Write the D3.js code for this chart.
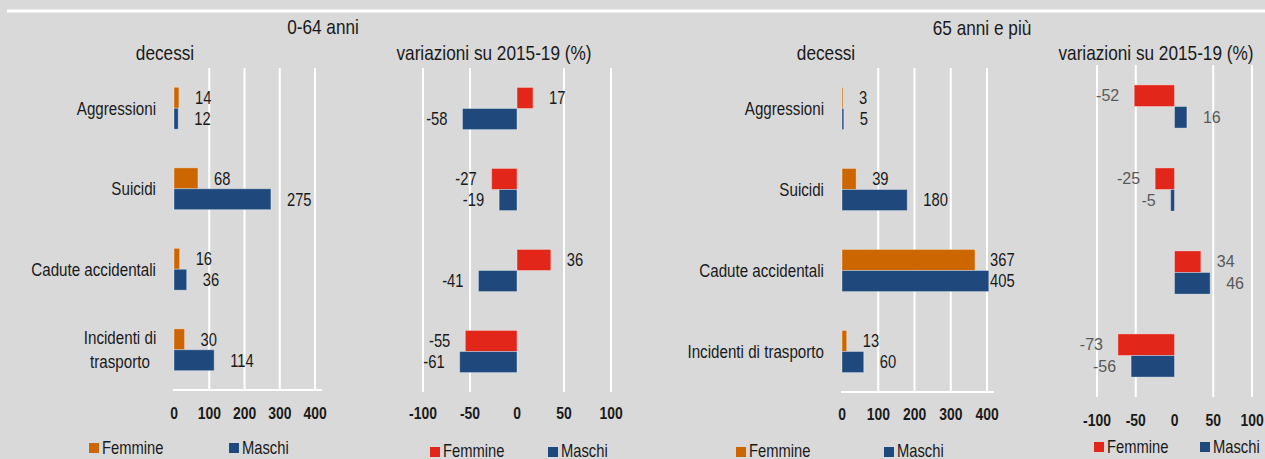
<!DOCTYPE html>
<html>
<head>
<meta charset="utf-8">
<script src="https://cdn.jsdelivr.net/npm/d3@7"></script>
<style>
  body { margin: 0; background: #d9d9d9; }
  svg { display: block; }
  text { font-family: "Liberation Sans", Arial, sans-serif; fill: #1a1a1a; }
</style>
</head>
<body>
<svg id="chart" width="1265" height="459"></svg>
<script>
// data
var categories = ['Aggressioni', 'Suicidi', 'Cadute accidentali', 'Incidenti di trasporto'];
var series = ['Femmine', 'Maschi'];

var decessi0064F = [14, 68, 16, 30];
var decessi0064M = [12, 275, 36, 114];
var var0064F = [17, -27, 36, -55];
var var0064M = [-58, -19, -41, -61];

var decessi65F = [3, 39, 367, 13];
var decessi65M = [5, 180, 405, 60];
var var65F = [-52, -25, 34, -73];
var var65M = [16, -5, 46, -56];

var ticksDecessi = [0, 100, 200, 300, 400];
var ticksVar = [-100, -50, 0, 50, 100];

// no narrow font installed: squeeze Liberation Sans horizontally
var NARROW = 0.82;
function narrowAt(x, y) {
  return 'translate(' + x + ',' + y + ') scale(' + NARROW + ',1)';
}

var svg = d3.select('#chart');

svg.append('rect').attr('width', 1265).attr('height', 459).attr('fill', '#d9d9d9');
svg.append('line')
  .attr('x1', 7).attr('x2', 1265).attr('y1', 11).attr('y2', 11)
  .attr('stroke', '#fff').attr('stroke-width', 3);

// group titles
svg.append('text').attr('transform', narrowAt(323, 34)).attr('text-anchor', 'middle')
  .style('font-size', '21px').text('0-64 anni');
svg.append('text').attr('transform', narrowAt(982, 35)).attr('text-anchor', 'middle')
  .style('font-size', '21px').text('65 anni e più');

var panels = [
  { title: 'decessi', tx: 165, f: decessi0064F, m: decessi0064M, ticks: ticksDecessi,
    dom: [0, 400], xr: [174, 315], yr: [68, 390], axisLine: [173, 322], tickY: 419,
    colors: ['#cc6600', '#1f497d'], cats: 'split', catX: 156,
    legend: [89, 229], legY: 443, plainLabels: false },
  { title: 'variazioni su 2015-19 (%)', tx: 494, f: var0064F, m: var0064M, ticks: ticksVar,
    dom: [-100, 100], xr: [423, 611], yr: [68, 392], axisLine: null, tickY: 419,
    colors: ['#e3261a', '#1f497d'], cats: null,
    legend: [430, 548], legY: 447, plainLabels: false },
  { title: 'decessi', tx: 826, f: decessi65F, m: decessi65M, ticks: ticksDecessi,
    dom: [0, 400], xr: [842, 987], yr: [68, 392], axisLine: [841, 994], tickY: 420,
    colors: ['#cc6600', '#1f497d'], cats: 'line', catX: 824,
    legend: [736, 884], legY: 447, plainLabels: false },
  { title: 'variazioni su 2015-19 (%)', tx: 1156, f: var65F, m: var65M, ticks: ticksVar,
    dom: [-100, 100], xr: [1097, 1252], yr: [65, 397], axisLine: null, tickY: 426,
    colors: ['#e3261a', '#1f497d'], cats: null,
    legend: [1094, 1200], legY: 442, plainLabels: true }
];

panels.forEach(function(p) {
  var g = svg.append('g');

  var x = d3.scaleLinear().domain(p.dom).range(p.xr);
  var y = d3.scaleBand().domain(categories).range(p.yr)
    .paddingInner(0.48).paddingOuter(0.24);
  var y1 = d3.scaleBand().domain(series).range([0, y.bandwidth()]);

  g.append('text')
    .attr('transform', narrowAt(p.tx, 60)).attr('text-anchor', 'middle')
    .style('font-size', '21px').text(p.title);

  // vertical gridlines (none at zero)
  g.selectAll('.grid')
    .data(p.ticks.filter(function(d) { return d !== 0; }))
    .enter().append('line')
    .attr('x1', function(d) { return x(d); })
    .attr('x2', function(d) { return x(d); })
    .attr('y1', p.yr[0]).attr('y2', p.yr[1])
    .attr('stroke', '#fff').attr('stroke-width', 2);

  if (p.axisLine) {
    g.append('line')
      .attr('x1', p.axisLine[0]).attr('x2', p.axisLine[1])
      .attr('y1', p.yr[1]).attr('y2', p.yr[1])
      .attr('stroke', '#fff').attr('stroke-width', 2);
  }

  // tick labels
  g.selectAll('.tick')
    .data(p.ticks)
    .enter().append('text')
    .attr('transform', function(d) { return narrowAt(x(d), p.tickY); })
    .attr('text-anchor', 'middle')
    .style('font-size', '17px').style('font-weight', 'bold')
    .text(function(d) { return d; });

  var flat = d3.merge(categories.map(function(c, i) {
    return [{ cat: c, s: 'Femmine', v: p.f[i] }, { cat: c, s: 'Maschi', v: p.m[i] }];
  }));

  g.selectAll('.bar')
    .data(flat)
    .enter().append('rect')
    .attr('x', function(d) { return x(Math.min(0, d.v)); })
    .attr('y', function(d) { return y(d.cat) + y1(d.s); })
    .attr('width', function(d) { return Math.max(1, Math.abs(x(d.v) - x(0))); })
    .attr('height', y1.bandwidth())
    .attr('fill', function(d) { return d.s === 'Femmine' ? p.colors[0] : p.colors[1]; })
    .attr('stroke', '#ffffff').attr('stroke-opacity', 0.35).attr('stroke-width', 1);

  var maxX = p.xr[1] + 3;
  g.selectAll('.val')
    .data(flat)
    .enter().append('text')
    .attr('transform', function(d) {
      var lx = d.v >= 0 ? Math.min(x(d.v) + 16, maxX) : x(d.v) - 15;
      var ly = y(d.cat) + y1(d.s) + y1.bandwidth() / 2;
      return p.plainLabels ? 'translate(' + lx + ',' + ly + ')' : narrowAt(lx, ly);
    })
    .attr('dy', '0.35em')
    .attr('text-anchor', function(d) { return d.v >= 0 ? 'start' : 'end'; })
    .style('font-size', p.plainLabels ? '16px' : '18px')
    .style('fill', p.plainLabels ? '#595959' : null)
    .text(function(d) { return d.v; });

  // category labels
  if (p.cats) {
    categories.forEach(function(c) {
      var cy = y(c) + y.bandwidth() / 2;
      if (p.cats === 'split' && c === 'Incidenti di trasporto') {
        var t = g.append('text').attr('transform', narrowAt(120, cy))
          .attr('text-anchor', 'middle').style('font-size', '18.5px');
        t.append('tspan').attr('x', 0).attr('y', -12).attr('dy', '0.35em').text('Incidenti di');
        t.append('tspan').attr('x', 0).attr('y', 12).attr('dy', '0.35em').text('trasporto');
      } else {
        g.append('text')
          .attr('transform', narrowAt(p.catX, cy)).attr('dy', '0.35em')
          .attr('text-anchor', 'end')
          .style('font-size', '18.5px')
          .text(c);
      }
    });
  }

  // legend
  series.forEach(function(s, i) {
    var lx = p.legend[i];
    g.append('rect')
      .attr('x', lx).attr('y', p.legY)
      .attr('width', 10).attr('height', 10)
      .attr('fill', p.colors[i]);
    g.append('text')
      .attr('transform', narrowAt(lx + 13, Math.min(p.legY + 11, 457)))
      .style('font-size', '18px')
      .text(s);
  });
});
</script>
</body>
</html>
